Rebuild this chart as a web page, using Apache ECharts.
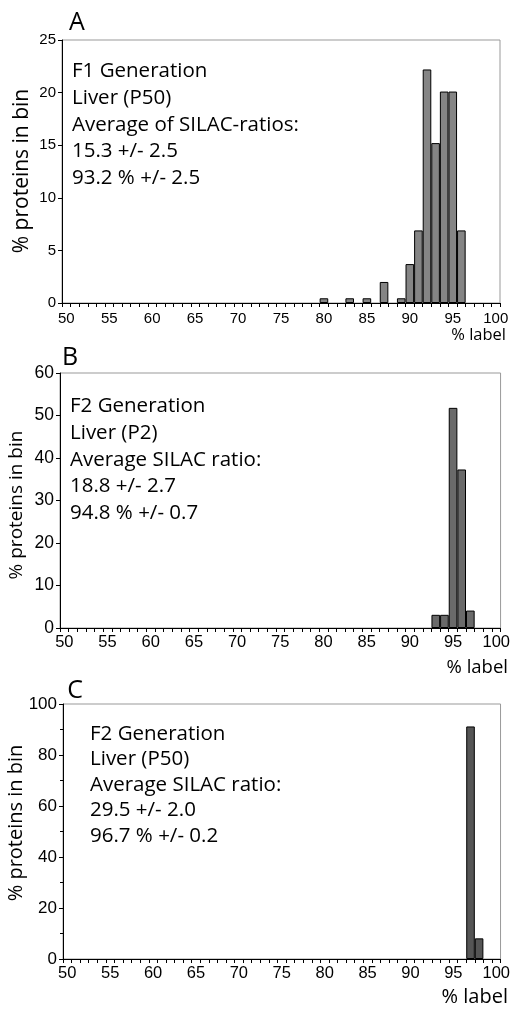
<!DOCTYPE html>
<html>
<head>
<meta charset="utf-8">
<script src="https://cdn.jsdelivr.net/npm/echarts@6/dist/echarts.min.js"></script>
<style>
html,body{margin:0;padding:0;background:#fff;}
#chart{width:513px;height:1009px;}
</style>
</head>
<body>
<div id="chart"></div>
<script>
// Tick labels / categories (bins of % label)
var categories = ['50','51','52','53','54','55','56','57','58','59','60','61','62','63','64','65','66','67','68','69','70','71','72','73','74','75','76','77','78','79','80','81','82','83','84','85','86','87','88','89','90','91','92','93','94','95','96','97','98','99','100'];

// Panel A: F1 Generation, Liver (P50)
var binsA = ['80','83','85','87','89','90','91','92','93','94','95','96'];
var valuesA = [0.45, 0.45, 0.45, 2.0, 0.45, 3.7, 6.9, 22.2, 15.2, 20.1, 20.1, 6.9];

// Panel B: F2 Generation, Liver (P2)
var binsB = ['93','94','95','96','97'];
var valuesB = [3.1, 3.1, 51.8, 37.3, 4.1];

// Panel C: F2 Generation, Liver (P50)
var binsC = ['97','98'];
var valuesC = [91.2, 8.1];

var textA = ['F1 Generation','Liver (P50)','Average of SILAC-ratios:','15.3 +/- 2.5','93.2 % +/- 2.5'];
var textB = ['F2 Generation','Liver (P2)','Average SILAC ratio:','18.8 +/- 2.7','94.8 % +/- 0.7'];
var textC = ['F2 Generation','Liver (P50)','Average SILAC ratio:','29.5 +/- 2.0','96.7 % +/- 0.2'];

var yNameText = '% proteins in bin';
var xNameText = '% label';

var HUM = '"Open Sans", "Noto Sans", sans-serif';
var ARIAL = '"Liberation Sans", Arial, sans-serif';

function pairs(bins, vals){ return bins.map(function(b,i){ return [b, vals[i]]; }); }

function xAx(gi, fs, margin){
  return {
    type:'category', gridIndex:gi, data:categories, boundaryGap:true,
    axisLine:{show:true, lineStyle:{color:'#000', width:1}},
    axisTick:{show:true, interval:0, length:4, alignWithLabel:false, lineStyle:{color:'#000', width:1}},
    axisLabel:{interval:4, fontSize:fs, fontFamily:ARIAL, color:'#000', margin:margin, hideOverlap:false},
    splitLine:{show:false}
  };
}
function yAx(gi, max, interval, fs, minor){
  return {
    type:'value', gridIndex:gi, min:0, max:max, interval:interval,
    axisLine:{show:true, lineStyle:{color:'#000', width:1}},
    axisTick:{show:true, length:4, lineStyle:{color:'#000', width:1}},
    minorTick:{show:!!minor, splitNumber:2, length:3, lineStyle:{color:'#000', width:1}},
    axisLabel:{fontSize:fs, fontFamily:ARIAL, color:'#000', margin:6},
    splitLine:{show:false}, minorSplitLine:{show:false}
  };
}
function bar(idx, data, color){
  return {
    type:'bar', xAxisIndex:idx, yAxisIndex:idx, data:data,
    barCategoryGap:'0%', barGap:'0%',
    itemStyle:{color:color, borderColor:'#000', borderWidth:1},
    emphasis:{disabled:true}, silent:true
  };
}
function block(lines, x, y, fs, lh){
  return {type:'text', x:x, y:y, silent:true,
    style:{text:lines.join('\n'), font: fs+'px '+HUM, fill:'#000', lineHeight:lh, align:'left', verticalAlign:'top'}};
}
function txt(t, x, y, fs, align, rot){
  var o = {type:'text', x:x, y:y, silent:true,
    style:{text:t, font: fs+'px '+HUM, fill:'#000', align:align||'center', verticalAlign:'middle'}};
  if (rot) o.rotation = rot;
  return o;
}

var chart = echarts.init(document.getElementById('chart'), null, {renderer:'canvas'});
chart.setOption({
  animation:false,
  backgroundColor:'#fff',
  grid:[
    {left:62, top:40, width:438, height:263, show:true, borderColor:'#999', borderWidth:1, containLabel:false},
    {left:60, top:373, width:442, height:255, show:true, borderColor:'#999', borderWidth:1, containLabel:false},
    {left:63, top:704, width:439, height:255, show:true, borderColor:'#999', borderWidth:1, containLabel:false}
  ],
  xAxis:[ xAx(0,15,8), xAx(1,16.5,6), xAx(2,16.5,6) ],
  yAxis:[ yAx(0,25,5,15,false), yAx(1,60,10,17.5,false), yAx(2,100,20,17,true) ],
  series:[
    bar(0, pairs(binsA, valuesA), '#858585'),
    bar(1, pairs(binsB, valuesB), '#6a6a6a'),
    bar(2, pairs(binsC, valuesC), '#555555')
  ],
  graphic:[
    txt('A', 77, 23, 25, 'center'),
    txt('B', 70, 358, 25, 'center'),
    txt('C', 75, 691, 25, 'center'),
    block(textA, 72, 58, 20.5, 26.7),
    block(textB, 70, 393, 20.5, 26.7),
    block(textC, 90, 721, 20.5, 25.5),
    txt(yNameText, 22, 171, 21, 'center', Math.PI/2),
    txt(yNameText, 17, 505, 19, 'center', Math.PI/2),
    txt(yNameText, 16, 823, 20, 'center', Math.PI/2),
    txt(xNameText, 506, 335, 16.5, 'right'),
    txt(xNameText, 508, 668, 18.5, 'right'),
    txt(xNameText, 508, 997, 20, 'right')
  ]
});
</script>
</body>
</html>
